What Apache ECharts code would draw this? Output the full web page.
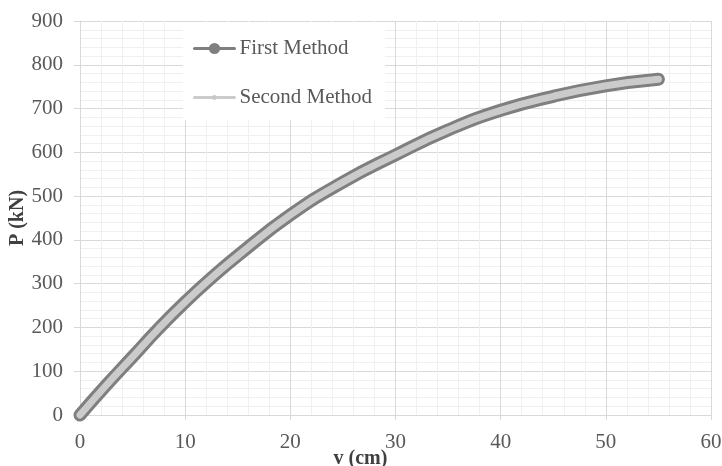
<!DOCTYPE html>
<html lang="en">
<head>
    <meta charset="utf-8"/>
    <title>P - v</title>
    <script src="https://cdn.jsdelivr.net/npm/echarts@6/dist/echarts.min.js"></script>
    <style type="text/css">
        html, body { height:100%; margin:0; background:#fff; }
        #main_1 { width:722px; height:466px; }
    </style>
</head>
<body>
<div id="main_1"></div>
<script>
    // values: v (cm) -> P (kN)
    var vFirst  = [0, 2.5, 5, 7.5, 10, 12.5, 15, 20, 25, 30, 35, 40, 45, 50, 55];
    var pFirst  = [0, 68, 133, 198, 258, 313, 364, 457, 532, 594, 651, 696, 728, 752, 767];
    var vSecond = [0, 2.5, 5, 7.5, 10, 12.5, 15, 20, 25, 30, 35, 40, 45, 50, 55];
    var pSecond = [0, 68, 133, 198, 258, 313, 364, 457, 532, 594, 651, 696, 728, 752, 767];

    var names = ['First Method', 'Second Method'];

    function pairs(xs, ys) {
        var out = [];
        for (var i = 0; i < xs.length; i++) out.push([xs[i], ys[i]]);
        return out;
    }

    var font = 'Liberation Serif';
    var labelStyle = { fontFamily: font, fontSize: 21, color: '#595959' };
    var nameStyle = { fontFamily: font, fontSize: 20, fontWeight: 'bold', color: '#404040' };

    var myChart = echarts.init(document.getElementById('main_1'));

    var option = {
        backgroundColor: '#fff',
        animation: false,
        grid: { left: 80, right: 11, top: 21, bottom: 51, outerBoundsMode: 'none', containLabel: false },
        graphic: [{
            type: 'rect', z: 3,
            shape: { x: 183, y: 22, width: 202, height: 98 },
            style: { fill: '#fff' }
        }],
        legend: [{
            data: [{ name: names[0], lineStyle: { width: 3 } }],
            left: 193, top: 38, padding: 0,
            itemWidth: 40, itemHeight: 14,
            textStyle: { fontFamily: font, fontSize: 21, lineHeight: 20, color: '#595959' }
        }, {
            data: [{ name: names[1], lineStyle: { width: 3 } }],
            left: 193, top: 87, padding: 0,
            itemWidth: 40, itemHeight: 6,
            textStyle: { fontFamily: font, fontSize: 21, lineHeight: 20, color: '#595959' }
        }],
        xAxis: {
            type: 'value', min: 0, max: 60, interval: 10,
            name: 'v (cm)', nameLocation: 'middle', nameGap: 34, nameMoveOverlap: false,
            nameTextStyle: Object.assign({ padding: [0, 70, 0, 0] }, nameStyle),
            axisLine: { show: true, lineStyle: { color: '#d9d9d9' } },
            axisTick: { show: true, length: 5, lineStyle: { color: '#d9d9d9' } },
            axisLabel: Object.assign({ margin: 17 }, labelStyle),
            splitLine: { show: true, lineStyle: { color: '#d9d9d9' } },
            minorTick: { show: false, splitNumber: 5 },
            minorSplitLine: { show: true, lineStyle: { color: '#f0f0f0' } }
        },
        yAxis: {
            type: 'value', min: 0, max: 900, interval: 100,
            name: 'P (kN)', nameLocation: 'middle', nameGap: 52, nameMoveOverlap: false,
            nameTextStyle: nameStyle,
            axisLine: { show: true, lineStyle: { color: '#d9d9d9' } },
            axisTick: { show: true, length: 6, lineStyle: { color: '#d9d9d9' } },
            axisLabel: Object.assign({ margin: 17 }, labelStyle),
            splitLine: { show: true, lineStyle: { color: '#d9d9d9' } },
            minorTick: { show: false, splitNumber: 5 },
            minorSplitLine: { show: true, lineStyle: { color: '#f0f0f0' } }
        },
        series: [{
            name: names[0], type: 'line', smooth: 0.5, clip: false,
            symbol: 'circle', showSymbol: false,
            data: pairs(vFirst, pFirst),
            itemStyle: { color: '#7f7f7f' },
            lineStyle: { color: '#7f7f7f', width: 13, cap: 'round', join: 'round' }
        }, {
            name: names[1], type: 'line', smooth: 0.5, clip: false,
            symbol: 'circle', showSymbol: false,
            data: pairs(vSecond, pSecond),
            itemStyle: { color: '#c8c8c8' },
            lineStyle: { color: '#cbcbcb', width: 7, cap: 'round', join: 'round' }
        }]
    };

    myChart.setOption(option);
</script>
</body>
</html>
